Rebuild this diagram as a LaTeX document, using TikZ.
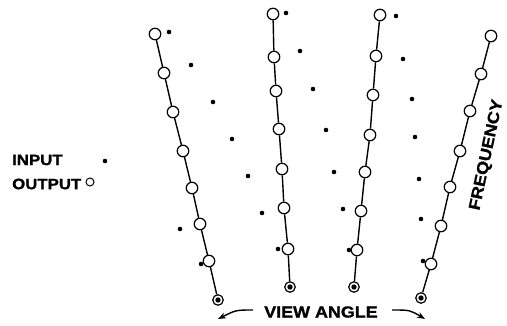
\documentclass[tikz,border=0pt]{standalone}
\usepackage{fontspec}
\newfontfamily\lblfont[FakeStretch=1.12,BoldFeatures={FakeBold=1.2}]{Liberation Sans}
\usetikzlibrary{arrows.meta}
\tikzset{
  outc/.style={circle,draw,fill=white,line width=1.2pt,minimum size=11.5pt,inner sep=0pt},
  tgt/.style={circle,draw,fill=white,line width=1.2pt,minimum size=10.5pt,inner sep=0pt},
  inp/.style={circle,fill=black,minimum size=4.6pt,inner sep=0pt},
  seg/.style={line width=1.4pt},
  lbl/.style={font=\lblfont\bfseries\fontsize{15}{15}\selectfont,inner sep=0pt},
  va/.style={line width=1.4pt,-{Stealth[length=8pt,width=6pt]}}
}
\begin{document}
\begin{tikzpicture}[x=1pt,y=-1pt]
\useasboundingbox (0,0) rectangle (507,326);
% line 1
\node[outc] (a1) at (155,34) {};
\node[outc] (a2) at (164,73) {};
\node[outc] (a3) at (173,112) {};
\node[outc] (a4) at (183,151) {};
\node[outc] (a5) at (192,188) {};
\node[outc] (a6) at (200,224) {};
\node[outc] (a7) at (209,261) {};
\node[tgt]  (a8) at (218,300) {};
% line 2
\node[outc] (b1) at (273,14) {};
\node[outc] (b2) at (274,57) {};
\node[outc] (b3) at (276,91) {};
\node[outc] (b4) at (279,129) {};
\node[outc] (b5) at (282,169) {};
\node[outc] (b6) at (284,208) {};
\node[outc] (b7) at (288,249) {};
\node[tgt]  (b8) at (290,287) {};
% line 3
\node[outc] (c1) at (380,15) {};
\node[outc] (c2) at (376,56) {};
\node[outc] (c3) at (373,95) {};
\node[outc] (c4) at (370,135) {};
\node[outc] (c5) at (365,172) {};
\node[outc] (c6) at (361,211) {};
\node[outc] (c7) at (357,250) {};
\node[tgt]  (c8) at (354,287) {};
% line 4
\node[outc] (d1) at (491,36) {};
\node[outc] (d2) at (481,74) {};
\node[outc] (d3) at (470,111) {};
\node[outc] (d4) at (460,151) {};
\node[outc] (d5) at (450,187) {};
\node[outc] (d6) at (441,226) {};
\node[outc] (d7) at (431,264) {};
\node[tgt]  (d8) at (421,298) {};
\draw[seg] (a1)--(a2)--(a3)--(a4)--(a5)--(a6)--(a7)--(a8);
\draw[seg] (b1)--(b2)--(b3)--(b4)--(b5)--(b6)--(b7)--(b8);
\draw[seg] (c1)--(c2)--(c3)--(c4)--(c5)--(c6)--(c7)--(c8);
\draw[seg] (d1)--(d2)--(d3)--(d4)--(d5)--(d6)--(d7)--(d8);
% target centre dots
\foreach \t in {a8,b8,c8,d8} \fill (\t.center) circle (2.7);
% input dots
\node[inp] (p1) at (169,32) {};
\node[inp] (p2) at (191,65) {};
\node[inp] (p3) at (213,102) {};
\node[inp] (p4) at (232,139) {};
\node[inp] (p5) at (248,176) {};
\node[inp] (p6) at (262,213) {};
\node[inp] (p7) at (278,249) {};
\node[inp] (q1) at (286,13) {};
\node[inp] (q2) at (300,51) {};
\node[inp] (q3) at (313,89) {};
\node[inp] (q4) at (326,130) {};
\node[inp] (q5) at (334,172) {};
\node[inp] (q6) at (343,209) {};
\node[inp] (q7) at (349,250) {};
\node[inp] (r1) at (396,16) {};
\node[inp] (r2) at (403,59) {};
\node[inp] (r3) at (412,99) {};
\node[inp] (r4) at (415,137) {};
\node[inp] (r5) at (419,179) {};
\node[inp] (r6) at (421,219) {};
\node[inp] (r7) at (423,261) {};
\node[inp] (s1) at (180,229) {};
\node[inp] (s2) at (201,264) {};
% legend
\node[lbl,anchor=west] (tin) at (12,160) {INPUT};
\node[inp] (lin) at (105,161) {};
\node[lbl,anchor=west] (tout) at (12,184) {OUTPUT};
\node[circle,draw,line width=1pt,minimum size=8pt,inner sep=0pt] (lout) at (90,182) {};
% view angle
\node[lbl,font=\lblfont\bfseries\fontsize{16}{16}\selectfont] (va) at (321,312) {VIEW ANGLE};
\coordinate (l0) at (253,310);
\coordinate (l1) at (218,319);
\coordinate (r0) at (392,310);
\coordinate (r1) at (425,319);
\draw[va] (l0) .. controls (236,310) .. (l1);
\draw[va] (r0) .. controls (410,310) .. (r1);
% frequency
\node[lbl,font=\lblfont\bfseries\fontsize{16}{16}\selectfont,rotate=78] (fq) at (487,155) {FREQUENCY};
\end{tikzpicture}
\end{document}
